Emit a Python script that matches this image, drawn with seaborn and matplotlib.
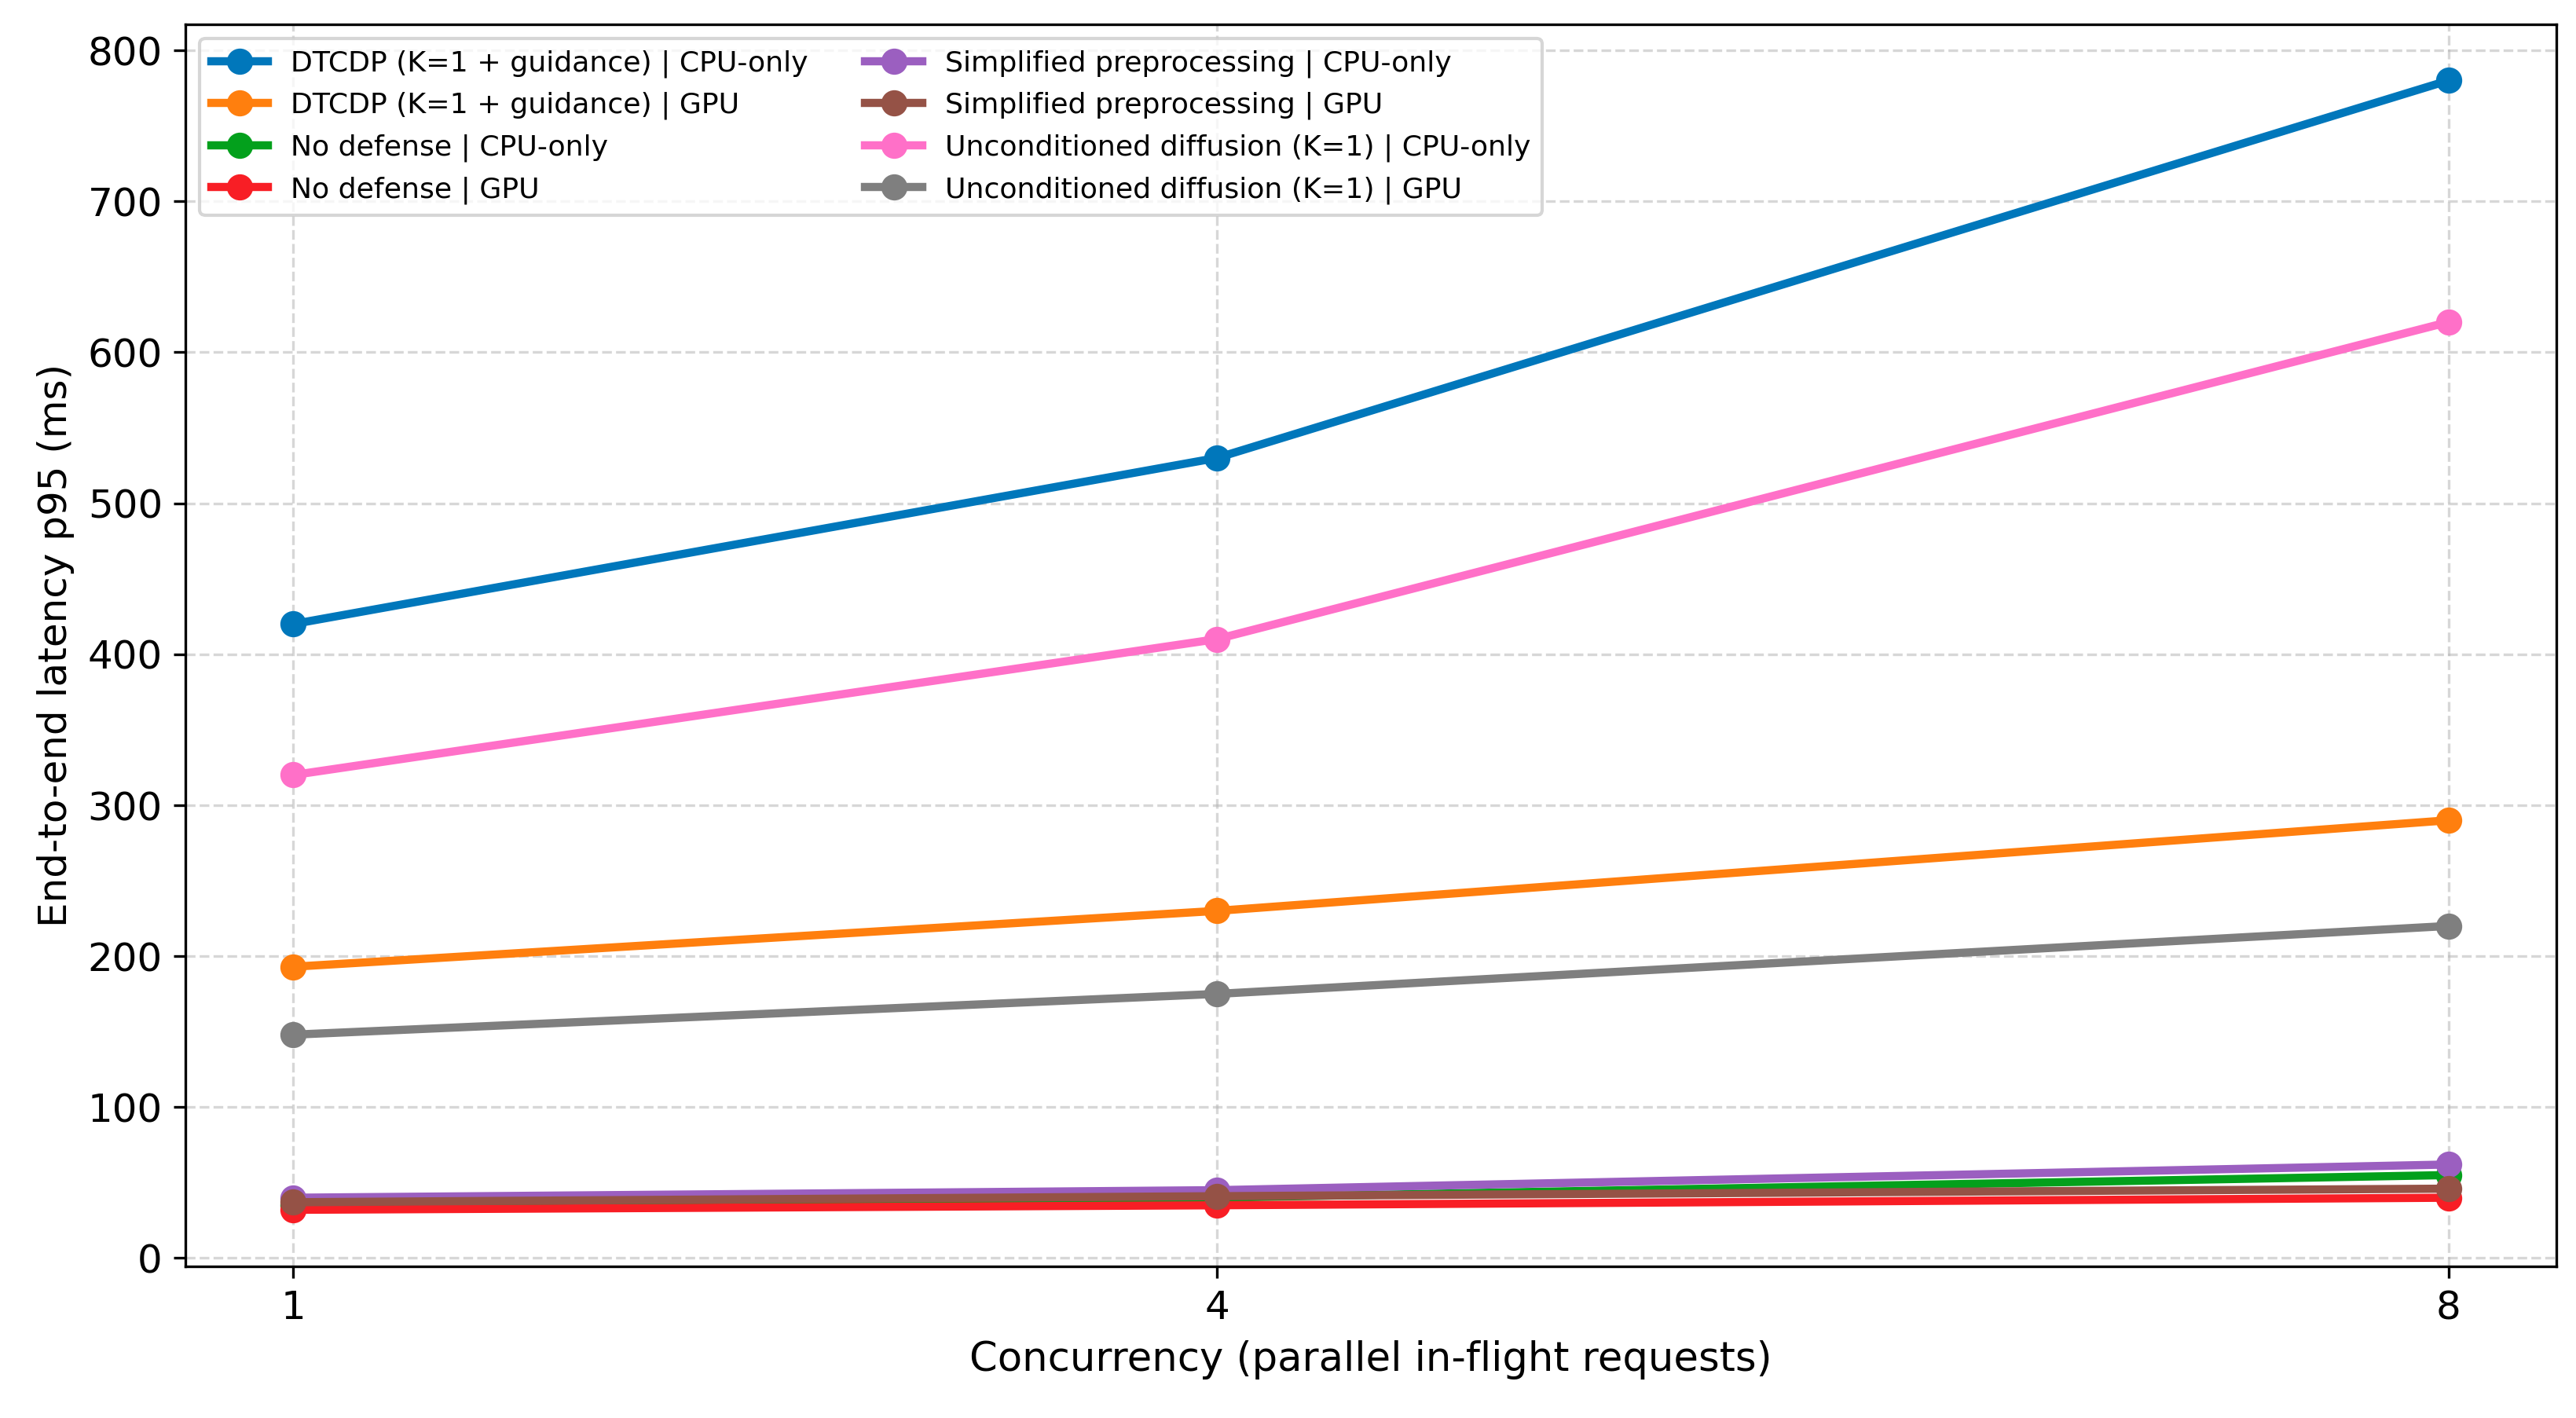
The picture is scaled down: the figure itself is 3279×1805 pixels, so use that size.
import matplotlib
matplotlib.use("Agg")
import matplotlib.pyplot as plt
import seaborn as sns
import pandas as pd


concurrency = [1, 4, 8]

dtcdp_cpu = [420, 530, 780]
dtcdp_gpu = [193, 230, 290]
nodef_cpu = [35, 40, 55]
nodef_gpu = [32, 35, 40]
simple_cpu = [40, 45, 62]
simple_gpu = [37, 41, 46]
uncond_cpu = [320, 410, 620]
uncond_gpu = [148, 175, 220]

series_names = [
    "DTCDP (K=1 + guidance) | CPU-only",
    "DTCDP (K=1 + guidance) | GPU",
    "No defense | CPU-only",
    "No defense | GPU",
    "Simplified preprocessing | CPU-only",
    "Simplified preprocessing | GPU",
    "Unconditioned diffusion (K=1) | CPU-only",
    "Unconditioned diffusion (K=1) | GPU",
]
series_values = [dtcdp_cpu, dtcdp_gpu, nodef_cpu, nodef_gpu,
                 simple_cpu, simple_gpu, uncond_cpu, uncond_gpu]
colores = ["#0077bb", "#ff7f0e", "#03a01c", "#f81e25",
           "#9b5fc0", "#955246", "#ff70c8", "#7f7f7f"]


rows = []
for nombre, valores in zip(series_names, series_values):
    for c, v in zip(concurrency, valores):
        rows.append({"serie": nombre, "conc": c, "lat": v})
df = pd.DataFrame(rows)


fig, ax = plt.subplots(figsize=(10.933, 6.017), dpi=300)

for nombre, color in zip(series_names, colores):
    sub = df[df["serie"] == nombre]
    sns.lineplot(data=sub, x="conc", y="lat", ax=ax, label=nombre,
                 color=color, marker="o", linewidth=2.5, markersize=8,
                 markeredgewidth=0, markeredgecolor=color)

ax.set_xticks(concurrency)
ax.set_yticks(range(0, 900, 100))
ax.grid(True, linestyle="--", color="#b0b0b0", alpha=0.5)
ax.set_xlabel("Concurrency (parallel in-flight requests)", fontsize=12.3)
ax.set_ylabel("End-to-end latency p95 (ms)", fontsize=12)
ax.tick_params(labelsize=12)
ax.legend(ncol=2, loc="upper left", fontsize=8.7)

fig.subplots_adjust(left=0.072, right=0.992, bottom=0.107, top=0.983)
fig.savefig("out.png", dpi=300)
